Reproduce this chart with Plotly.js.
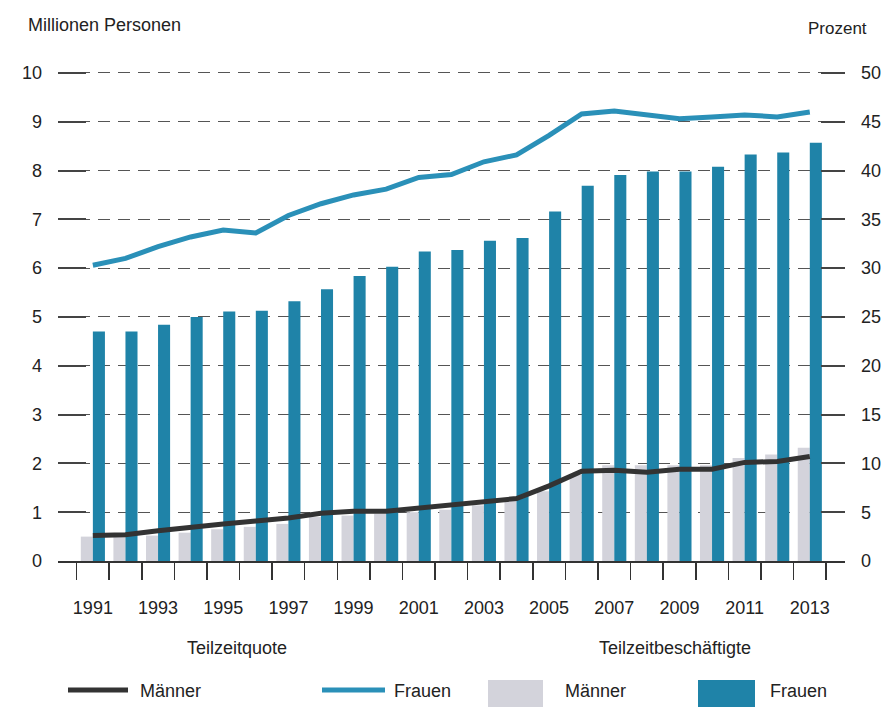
<!DOCTYPE html>
<html>
<head>
<meta charset="utf-8">
<script src="https://cdn.plot.ly/plotly-3.0.1.min.js"></script>
<style>html,body{margin:0;padding:0;background:#fff;}#chart{width:885px;height:707px;}</style>
</head>
<body>
<div id="chart"></div>
<script>
// Data
const years = [1991,1992,1993,1994,1995,1996,1997,1998,1999,2000,2001,2002,2003,2004,2005,2006,2007,2008,2009,2010,2011,2012,2013];
// Teilzeitbeschäftigte, Millionen Personen
const beschMaenner = [0.50,0.50,0.52,0.58,0.65,0.70,0.76,0.90,0.93,0.97,1.00,1.05,1.14,1.25,1.43,1.76,1.96,1.96,1.96,1.96,2.11,2.18,2.32];
const beschFrauen  = [4.70,4.70,4.84,5.00,5.11,5.13,5.32,5.57,5.84,6.03,6.34,6.37,6.56,6.62,7.16,7.69,7.91,7.98,7.98,8.08,8.33,8.37,8.57];
// Teilzeitquote, Prozent
const quoteMaenner = [2.6,2.7,3.1,3.5,3.8,4.1,4.4,4.9,5.1,5.1,5.4,5.7,6.0,6.4,7.7,9.2,9.3,9.1,9.4,9.4,10.1,10.2,10.7];
const quoteFrauen  = [30.3,31.0,32.2,33.2,33.9,33.6,35.4,36.6,37.5,38.1,39.3,39.6,40.9,41.6,43.6,45.8,46.1,45.7,45.3,45.5,45.7,45.5,46.0];
const oddYears = [1991,1993,1995,1997,1999,2001,2003,2005,2007,2009,2011,2013];
const leftTicks = [0,1,2,3,4,5,6,7,8,9,10];
const rightTicks = [0,5,10,15,20,25,30,35,40,45,50];
const groupTitles = ['Teilzeitquote','Teilzeitbeschäftigte'];
const seriesNames = ['Männer','Frauen','Männer','Frauen'];

const cGray = '#d3d3db';
const cBlue = '#1f83a8';
const cBlueLine = '#2a90b8';
const cDark = '#333333';
const narrow = '"Liberation Sans Narrow", "Liberation Sans", Arial, sans-serif';
const reg = '"Liberation Sans", Arial, sans-serif';

const traces = [
  {type:'bar', x:years, y:beschMaenner, name:seriesNames[2], marker:{color:cGray}, offsetgroup:'m', yaxis:'y'},
  {type:'bar', x:years, y:beschFrauen, name:seriesNames[3], marker:{color:cBlue}, offsetgroup:'f', yaxis:'y'},
  {type:'scatter', mode:'lines', x:years, y:quoteMaenner, name:seriesNames[0], line:{color:cDark, width:5}, yaxis:'y2'},
  {type:'scatter', mode:'lines', x:years, y:quoteFrauen, name:seriesNames[1], line:{color:cBlueLine, width:5}, yaxis:'y2'}
];

// legend helpers (paper coordinates from pixel positions)
const L = 58, R = 845, T = 71, B = 561;
const px = v => (v - L) / (R - L);
const py = v => (B - v) / (B - T);

const shapes = [
  {type:'line', xref:'paper', yref:'paper', x0:px(68), x1:px(128), y0:py(690), y1:py(690), line:{color:cDark, width:5}},
  {type:'line', xref:'paper', yref:'paper', x0:px(322), x1:px(385), y0:py(690), y1:py(690), line:{color:cBlueLine, width:5}},
  {type:'rect', xref:'paper', yref:'paper', x0:px(488), x1:px(543), y0:py(707), y1:py(680), line:{width:0}, fillcolor:cGray},
  {type:'rect', xref:'paper', yref:'paper', x0:px(698), x1:px(755), y0:py(707), y1:py(680), line:{width:0}, fillcolor:cBlue}
];

const legendFont = {family:narrow, size:18, color:'#222'};
const annotations = [
  {xref:'paper', yref:'paper', x:px(26), y:py(25), xanchor:'left', yanchor:'middle', text:'Millionen Personen', showarrow:false, font:{family:narrow, size:18, color:'#222'}},
  {xref:'paper', yref:'paper', x:px(869), y:py(28), xanchor:'right', yanchor:'middle', text:'Prozent', showarrow:false, font:{family:narrow, size:17, color:'#222'}},
  {xref:'paper', yref:'paper', x:px(237), y:py(648), xanchor:'center', yanchor:'middle', text:groupTitles[0], showarrow:false, font:legendFont},
  {xref:'paper', yref:'paper', x:px(675), y:py(648), xanchor:'center', yanchor:'middle', text:groupTitles[1], showarrow:false, font:legendFont},
  {xref:'paper', yref:'paper', x:px(138), y:py(691), xanchor:'left', yanchor:'middle', text:seriesNames[0], showarrow:false, font:legendFont},
  {xref:'paper', yref:'paper', x:px(392), y:py(691), xanchor:'left', yanchor:'middle', text:seriesNames[1], showarrow:false, font:legendFont},
  {xref:'paper', yref:'paper', x:px(563), y:py(691), xanchor:'left', yanchor:'middle', text:seriesNames[2], showarrow:false, font:legendFont},
  {xref:'paper', yref:'paper', x:px(768), y:py(691), xanchor:'left', yanchor:'middle', text:seriesNames[3], showarrow:false, font:legendFont}
];

const layout = {
  width:885, height:707,
  margin:{l:L, r:885-R, t:T, b:707-B, pad:0},
  paper_bgcolor:'#fff', plot_bgcolor:'#fff',
  showlegend:false,
  barmode:'group', bargap:0.26, bargroupgap:0,
  xaxis:{
    type:'linear', range:[1989.93, 2014.08],
    tickmode:'array', tickvals:oddYears, ticktext:oddYears.map(String),
    ticks:'', showgrid:false, zeroline:false,
    showline:true, linecolor:cDark, linewidth:2,
    tickfont:{family:reg, size:18, color:'#222'},
    ticklabelstandoff:29,
    minor:{tick0:1990.5, dtick:1, ticks:'outside', ticklen:17, tickwidth:1.5, tickcolor:cDark, showgrid:false}
  },
  yaxis:{
    range:[0,10.04], tickmode:'array', tickvals:leftTicks,
    ticks:'inside', ticklen:28, tickwidth:2, tickcolor:'#444',
    showgrid:true, gridcolor:'#555', gridwidth:1, griddash:'12px,8px',
    zeroline:false, showline:false,
    tickfont:{family:reg, size:18, color:'#222'},
    ticklabelstandoff:15
  },
  yaxis2:{
    range:[0,50.2], overlaying:'y', side:'right', tickmode:'array', tickvals:rightTicks,
    ticks:'inside', ticklen:24, tickwidth:2, tickcolor:'#444',
    showgrid:false, zeroline:false, showline:false,
    tickfont:{family:reg, size:18, color:'#222'},
    ticklabelstandoff:15
  },
  shapes:shapes,
  annotations:annotations
};

Plotly.newPlot('chart', traces, layout, {displayModeBar:false, staticPlot:true});
</script>
</body>
</html>
